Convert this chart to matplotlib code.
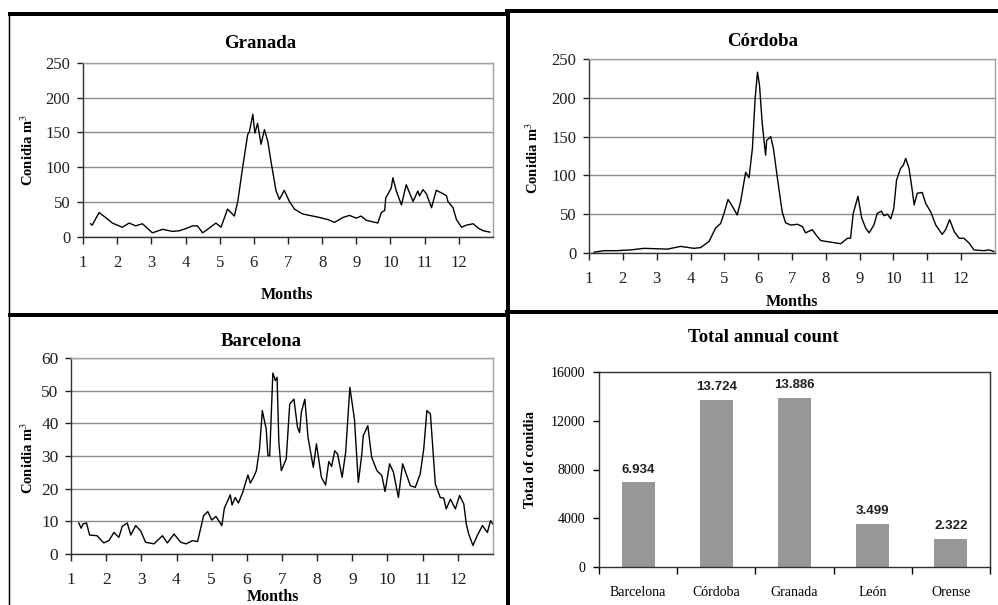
import matplotlib
matplotlib.use("Agg")
import matplotlib.pyplot as plt
from matplotlib.lines import Line2D
import numpy as np

plt.rcParams['font.family'] = ['Liberation Serif', 'DejaVu Serif']
plt.rcParams['mathtext.fontset'] = 'stix'

# ---------------- data ----------------
granada_month = [1.22, 1.27, 1.47, 1.66, 1.86, 2.15, 2.35, 2.54, 2.74, 3.03, 3.33, 3.62, 3.82, 4.01,
                 4.21, 4.35, 4.50, 4.70, 4.89, 5.04, 5.23, 5.43, 5.53, 5.67, 5.82, 5.87, 5.97, 6.03,
                 6.11, 6.21, 6.31, 6.41, 6.50, 6.65, 6.75, 6.89, 7.04, 7.19, 7.43, 7.73, 7.92, 8.17,
                 8.36, 8.61, 8.80, 9.00, 9.14, 9.29, 9.63, 9.73, 9.83, 9.86, 10.02, 10.07, 10.17,
                 10.32, 10.46, 10.66, 10.80, 10.85, 10.95, 11.05, 11.20, 11.34, 11.54, 11.64, 11.68,
                 11.83, 11.93, 12.08, 12.22, 12.42, 12.56, 12.71, 12.91]
granada_conidia = [19, 17, 35, 28, 20, 14, 20, 16, 19, 6, 11, 8, 9, 12,
                   16, 16, 6, 13, 20, 14, 40, 30, 51, 99, 147, 151, 176, 149,
                   163, 133, 154, 137, 109, 66, 54, 67, 51, 40, 33, 30, 28, 25,
                   21, 28, 31, 27, 30, 24, 20, 35, 38, 56, 70, 85, 66,
                   46, 75, 51, 66, 59, 68, 62, 42, 67, 62, 59, 51,
                   42, 25, 14, 17, 19, 13, 9, 7]

cordoba_month = [1.15, 1.44, 1.84, 2.23, 2.63, 3.32, 3.71, 4.10, 4.30, 4.55, 4.74, 4.89, 4.99, 5.11,
                 5.24, 5.38, 5.48, 5.63, 5.73, 5.83, 5.91, 5.98, 6.04, 6.12, 6.22, 6.25, 6.37, 6.45,
                 6.57, 6.71, 6.81, 6.96, 7.16, 7.31, 7.40, 7.60, 7.75, 7.85, 8.14, 8.44, 8.64, 8.73,
                 8.81, 8.95, 9.06, 9.18, 9.28, 9.42, 9.52, 9.64, 9.72, 9.82, 9.92, 10.01, 10.09,
                 10.21, 10.29, 10.36, 10.46, 10.56, 10.61, 10.70, 10.85, 10.95, 11.10, 11.25, 11.44,
                 11.54, 11.66, 11.79, 11.94, 12.08, 12.23, 12.38, 12.67, 12.82, 12.97]
cordoba_conidia = [1, 3, 3, 4, 6, 5, 8.5, 6, 7, 15, 32, 38, 51, 69,
                   60, 49, 66, 104, 97, 135, 199, 233, 216, 167, 126, 145, 150, 135,
                   96, 53, 39, 36, 37, 34, 26, 30, 21, 16, 14, 12, 19, 19,
                   51, 73, 45, 32, 26, 36, 51, 54, 48, 50, 44, 58, 94,
                   109, 113, 122, 109, 79, 62, 77, 78, 64, 53, 36, 24,
                   30, 43, 28, 19, 19, 13, 4, 3, 4, 2]

barcelona_month = [1.22, 1.29, 1.34, 1.44, 1.53, 1.74, 1.93, 2.08, 2.22, 2.36, 2.46, 2.60, 2.70, 2.84,
                   2.98, 3.12, 3.36, 3.60, 3.74, 3.93, 4.12, 4.27, 4.46, 4.60, 4.77, 4.89, 5.00, 5.12,
                   5.29, 5.36, 5.53, 5.58, 5.67, 5.76, 5.89, 6.03, 6.10, 6.19, 6.27, 6.36, 6.44, 6.50,
                   6.55, 6.60, 6.65, 6.74, 6.81, 6.86, 6.91, 6.98, 7.12, 7.22, 7.34, 7.44, 7.50, 7.55,
                   7.65, 7.74, 7.89, 7.98, 8.12, 8.24, 8.33, 8.41, 8.50, 8.58, 8.71, 8.81, 8.93, 9.06,
                   9.17, 9.27, 9.31, 9.44, 9.55, 9.70, 9.84, 9.93, 10.06, 10.17, 10.31, 10.43, 10.50,
                   10.65, 10.79, 10.93, 11.03, 11.12, 11.22, 11.36, 11.50, 11.60, 11.67, 11.79, 11.93,
                   12.05, 12.17, 12.24, 12.31, 12.43, 12.55, 12.70, 12.84, 12.93, 12.99]
barcelona_conidia = [9.5, 7.9, 9.2, 9.5, 5.8, 5.6, 3.4, 4.1, 6.6, 5.1, 8.5, 9.5, 5.8, 8.7,
                     7.1, 3.6, 3.1, 5.6, 3.4, 6.1, 3.6, 3.1, 4.1, 3.8, 11.7, 13.0, 10.4, 11.5,
                     8.7, 14.0, 18.1, 15.0, 17.3, 15.6, 19.1, 24.2, 21.7, 23.5, 25.5, 32.1, 43.9, 40.8,
                     38.3, 30.1, 30.1, 55.4, 53.1, 54.1, 34.2, 25.5, 29.1, 45.9, 47.4, 38.8, 37.2, 43.4,
                     47.4, 35.7, 26.5, 33.7, 23.5, 21.1, 28.3, 26.8, 31.6, 30.6, 23.5, 31.1, 51.0, 41.3,
                     21.9, 30.6, 36.2, 39.3, 29.6, 25.5, 24.0, 19.1, 27.6, 25.0, 17.3, 27.6, 25.5,
                     20.9, 20.4, 24.5, 32.1, 43.9, 42.9, 21.4, 17.3, 17.1, 13.8, 16.8, 13.8,
                     17.9, 15.3, 9.2, 6.1, 2.6, 5.6, 8.7, 6.6, 10.2, 9.2]

cities = ['Barcelona', 'Córdoba', 'Granada', 'León', 'Orense']
annual_total = [6934, 13724, 13886, 3499, 2322]
annual_labels = ['6.934', '13.724', '13.886', '3.499', '2.322']

month_ticks = list(range(1, 13))

# ---------------- figure ----------------
W, H = 998, 605
fig = plt.figure(figsize=(W / 100, H / 100), dpi=100)


def rect(l, r, t, b):
    return [l / W, 1 - b / H, (r - l) / W, (b - t) / H]


def fx(x):
    return x / W


def fy(y):
    return 1 - y / H


def style_line_ax(ax, ymax, ystep, fs):
    ax.set_xlim(1, 13)
    ax.set_ylim(0, ymax)
    ax.set_xticks(month_ticks)
    ax.set_yticks(np.arange(0, ymax + 1, ystep))
    ax.yaxis.grid(True, color='#8c8c8c', lw=1.0)
    ax.set_axisbelow(True)
    for s in ['top', 'right']:
        ax.spines[s].set_color('#a0a0a0')
        ax.spines[s].set_linewidth(1.0)
    for s in ['left', 'bottom']:
        ax.spines[s].set_color('#303030')
        ax.spines[s].set_linewidth(1.0)
    ax.tick_params(axis='x', direction='out', length=5, width=1, pad=8, labelsize=fs, colors='#202020')
    ax.tick_params(axis='y', direction='out', length=4, width=1, pad=5, labelsize=fs, colors='#202020')


# Granada
ax1 = fig.add_axes(rect(83, 493, 62.7, 237))
ax1.plot(granada_month, granada_conidia, color='black', lw=1.0)
style_line_ax(ax1, 250, 50, 12)
fig.text(fx(260), fy(43), 'Granada', ha='center', va='center', fontsize=13.5, fontweight='bold')
fig.text(fx(287), fy(295), 'Months', ha='center', va='center', fontsize=11.5, fontweight='bold')
fig.text(fx(28), fy(150), r'Conidia m$^{3}$', ha='center', va='center', rotation=90,
         fontsize=10.5, fontweight='bold')

# Córdoba
ax2 = fig.add_axes(rect(589, 995, 59, 253))
ax2.plot(cordoba_month, cordoba_conidia, color='black', lw=1.0)
style_line_ax(ax2, 250, 50, 12)
fig.text(fx(763), fy(41), 'Córdoba', ha='center', va='center', fontsize=13.5, fontweight='bold')
fig.text(fx(792), fy(302), 'Months', ha='center', va='center', fontsize=11.5, fontweight='bold')
fig.text(fx(533), fy(158), r'Conidia m$^{3}$', ha='center', va='center', rotation=90,
         fontsize=10.5, fontweight='bold')

# Barcelona
ax3 = fig.add_axes(rect(71, 493, 358, 554))
ax3.plot(barcelona_month, barcelona_conidia, color='black', lw=1.0)
style_line_ax(ax3, 60, 10, 12.5)
fig.text(fx(261), fy(341), 'Barcelona', ha='center', va='center', fontsize=13.5, fontweight='bold')
fig.text(fx(273), fy(597), 'Months', ha='center', va='center', fontsize=11.5, fontweight='bold')
fig.text(fx(28), fy(458), r'Conidia m$^{3}$', ha='center', va='center', rotation=90,
         fontsize=10.5, fontweight='bold')

# Total annual count
ax4 = fig.add_axes(rect(599, 990, 372, 567))
xpos = np.arange(len(cities))
bars = ax4.bar(xpos, annual_total, width=0.42, color='#979797', edgecolor='none')
ax4.set_xlim(-0.5, len(cities) - 0.5)
ax4.set_ylim(0, 16000)
ax4.set_yticks([0, 4000, 8000, 12000, 16000])
ax4.set_xticks(xpos)
ax4.set_xticklabels(cities)
ax4.set_xticks(np.arange(-0.5, len(cities)), minor=True)
ax4.tick_params(axis='x', which='major', length=0, pad=14, labelsize=10)
ax4.tick_params(axis='x', which='minor', direction='out', length=5, width=1)
ax4.tick_params(axis='y', direction='out', length=4, width=1, pad=6, labelsize=10)
for s in ax4.spines.values():
    s.set_color('#303030')
    s.set_linewidth(1.0)
for b, lab in zip(bars, annual_labels):
    ax4.annotate(lab, (b.get_x() + b.get_width() / 2, b.get_height()), xytext=(0, 5),
                 textcoords='offset points', ha='center', va='bottom', fontsize=9.5,
                 fontweight='bold', family=['Liberation Sans', 'DejaVu Sans'], color='#202020')
fig.text(fx(763), fy(337), 'Total annual count', ha='center', va='center', fontsize=13.5,
         fontweight='bold')
fig.text(fx(531), fy(459), 'Total of conidia', ha='center', va='center', rotation=90,
         fontsize=10.5, fontweight='bold')

# ---------------- panel borders ----------------
def hline(x0, x1, y, lw):
    fig.add_artist(Line2D([fx(x0), fx(x1)], [fy(y), fy(y)], color='black', lw=lw,
                          transform=fig.transFigure, solid_capstyle='butt'))


def vline(x, y0, y1, lw):
    fig.add_artist(Line2D([fx(x), fx(x)], [fy(y0), fy(y1)], color='black', lw=lw,
                          transform=fig.transFigure, solid_capstyle='butt'))


thick = 4 / 1.389
hline(8, 508, 14, thick)
hline(505, 998, 11, thick)
hline(8, 508, 315, thick)
hline(505, 998, 312, thick)
vline(508, 9, 605, thick)
vline(9, 12, 605, 1.5 / 1.389)

fig.savefig('out.png', dpi=100)
